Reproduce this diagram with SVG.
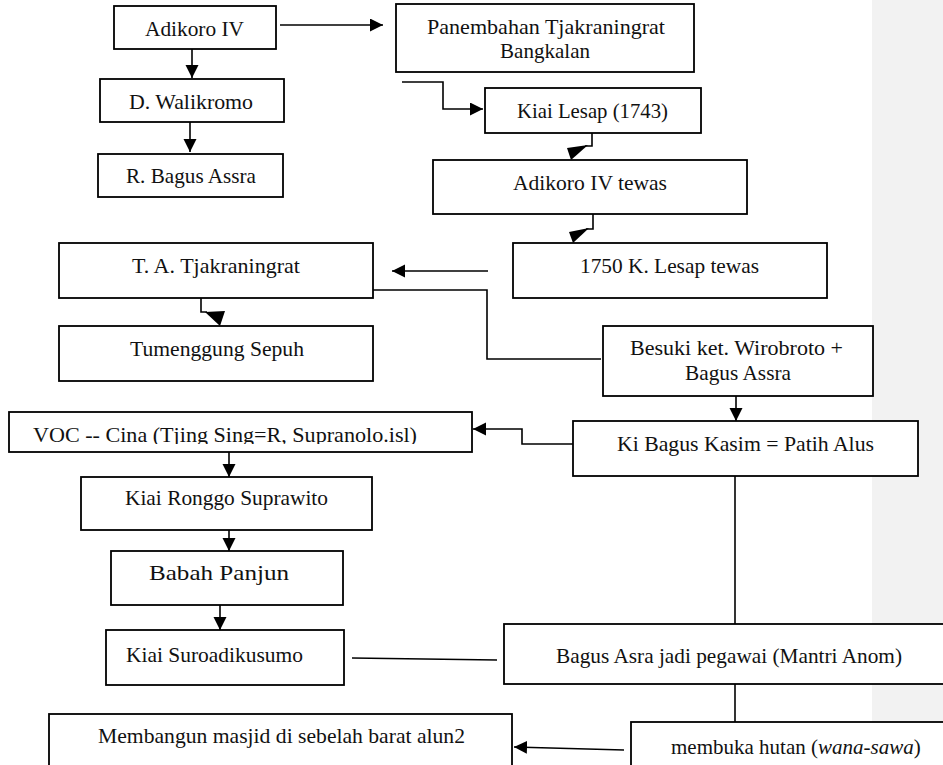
<svg xmlns="http://www.w3.org/2000/svg" width="943" height="765" viewBox="0 0 943 765" font-family="'Liberation Serif', 'DejaVu Serif', 'Noto Serif', 'Times New Roman', serif">
<style>
.box{fill:#fff;stroke:#000;stroke-width:1.8}
.ln{fill:none;stroke:#000;stroke-width:1.6}
.ah{fill:#000;stroke:none}
.t{font-family:'Liberation Serif','DejaVu Serif','Times New Roman',serif;font-size:21px;fill:#111}
</style>
<defs>
<marker id="arr" markerUnits="userSpaceOnUse" markerWidth="14" markerHeight="14" refX="13" refY="6.5" orient="auto">
<path d="M0,0 L13,6.5 L0,13 z" fill="#000"/>
</marker>
<clipPath id="vocclip"><rect x="9" y="412" width="463" height="32"/></clipPath>
</defs>
<rect x="872" y="0" width="71" height="765" fill="#f2f2f2"/>

<g id="connectors">
<line class="ln" x1="280" y1="25" x2="383" y2="25" marker-end="url(#arr)"/>
<line class="ln" x1="192" y1="49" x2="192" y2="78" marker-end="url(#arr)"/>
<line class="ln" x1="190" y1="122" x2="190" y2="152" marker-end="url(#arr)"/>
<path class="ln" d="M402,82 H443 V109 H483" marker-end="url(#arr)"/>
<path class="ln" d="M592,133 V146 H585"/>
<polygon class="ah" points="567,148 588,145 571,160"/>
<path class="ln" d="M593,214 V229 H586"/>
<polygon class="ah" points="569,232 589,228 573,243"/>
<line class="ln" x1="488" y1="271" x2="392" y2="271" marker-end="url(#arr)"/>
<path class="ln" d="M373,290 H487 V359 H601"/>
<path class="ln" d="M201,298 V312 H207"/>
<polygon class="ah" points="205,312 225,311 220,326"/>
<line class="ln" x1="736" y1="396" x2="736" y2="421" marker-end="url(#arr)"/>
<path class="ln" d="M573,444 H522 V429 H473" marker-end="url(#arr)"/>
<line class="ln" x1="229" y1="452" x2="229" y2="477" marker-end="url(#arr)"/>
<line class="ln" x1="229" y1="530" x2="229" y2="551" marker-end="url(#arr)"/>
<line class="ln" x1="220" y1="605" x2="220" y2="630" marker-end="url(#arr)"/>
<line class="ln" x1="735" y1="476" x2="735" y2="624"/>
<line class="ln" x1="352" y1="658" x2="497" y2="660"/>
<line class="ln" x1="735" y1="684" x2="735" y2="722"/>
<line class="ln" x1="624" y1="750" x2="514" y2="747" marker-end="url(#arr)"/>
</g>

<g id="n-adikoro"><rect class="box" x="114" y="6" width="162" height="43"/><text class="t" x="145" y="36" textLength="99" lengthAdjust="spacingAndGlyphs">Adikoro IV</text></g>
<g id="n-panembahan"><rect class="box" x="396" y="4" width="298" height="68"/><text class="t" x="427" y="34" textLength="238" lengthAdjust="spacingAndGlyphs">Panembahan Tjakraningrat</text><text class="t" x="500" y="58" textLength="90" lengthAdjust="spacingAndGlyphs">Bangkalan</text></g>
<g id="n-walikromo"><rect class="box" x="100" y="79" width="184" height="43"/><text class="t" x="129" y="109" textLength="124" lengthAdjust="spacingAndGlyphs">D. Walikromo</text></g>
<g id="n-bagusassra"><rect class="box" x="98" y="154" width="185" height="43"/><text class="t" x="126" y="183" textLength="130" lengthAdjust="spacingAndGlyphs">R. Bagus Assra</text></g>
<g id="n-kiailesap"><rect class="box" x="485" y="88" width="216" height="45"/><text class="t" x="517" y="118" textLength="151" lengthAdjust="spacingAndGlyphs">Kiai Lesap (1743)</text></g>
<g id="n-adikorotewas"><rect class="box" x="433" y="160" width="314" height="54"/><text class="t" x="513" y="190" textLength="154" lengthAdjust="spacingAndGlyphs">Adikoro IV tewas</text></g>
<g id="n-1750"><rect class="box" x="513" y="243" width="314" height="55"/><text class="t" x="580" y="273" textLength="179" lengthAdjust="spacingAndGlyphs">1750 K. Lesap tewas</text></g>
<g id="n-ta"><rect class="box" x="59" y="243" width="314" height="55"/><text class="t" x="132" y="273" textLength="168" lengthAdjust="spacingAndGlyphs">T. A. Tjakraningrat</text></g>
<g id="n-tumenggung"><rect class="box" x="59" y="326" width="314" height="55"/><text class="t" x="130" y="356" textLength="174" lengthAdjust="spacingAndGlyphs">Tumenggung Sepuh</text></g>
<g id="n-besuki"><rect class="box" x="603" y="326" width="270" height="70"/><text class="t" x="630" y="355" textLength="213" lengthAdjust="spacingAndGlyphs">Besuki ket. Wirobroto +</text><text class="t" x="685" y="380" textLength="106" lengthAdjust="spacingAndGlyphs">Bagus Assra</text></g>
<g id="n-kibagus"><rect class="box" x="573" y="421" width="345" height="55"/><text class="t" x="617" y="451" textLength="257" lengthAdjust="spacingAndGlyphs">Ki Bagus Kasim = Patih Alus</text></g>
<g id="n-voc"><rect class="box" x="9" y="412" width="463" height="40"/><text class="t" x="33" y="442" textLength="384" lengthAdjust="spacingAndGlyphs" clip-path="url(#vocclip)">VOC -- Cina (Tjing Sing=R, Supranolo.isl)</text></g>
<g id="n-ronggo"><rect class="box" x="81" y="477" width="291" height="53"/><text class="t" x="125" y="505" textLength="203" lengthAdjust="spacingAndGlyphs">Kiai Ronggo Suprawito</text></g>
<g id="n-babah"><rect class="box" x="111" y="551" width="232" height="54"/><text class="t" x="149" y="580" textLength="140" lengthAdjust="spacingAndGlyphs">Babah Panjun</text></g>
<g id="n-suro"><rect class="box" x="106" y="630" width="238" height="55"/><text class="t" x="126" y="662" textLength="177" lengthAdjust="spacingAndGlyphs">Kiai Suroadikusumo</text></g>
<g id="n-bagusasra"><rect class="box" x="504" y="624" width="450" height="60"/><text class="t" x="556" y="663" textLength="346" lengthAdjust="spacingAndGlyphs">Bagus Asra jadi pegawai (Mantri Anom)</text></g>
<g id="n-membangun"><rect class="box" x="49" y="714" width="463" height="60"/><text class="t" x="98" y="743" textLength="367" lengthAdjust="spacingAndGlyphs">Membangun masjid di sebelah barat alun2</text></g>
<g id="n-membuka"><rect class="box" x="631" y="722" width="320" height="60"/><text class="t" x="671" y="754" font-size="20">membuka hutan (<tspan font-style="italic">wana-sawa</tspan>)</text></g>
</svg>
